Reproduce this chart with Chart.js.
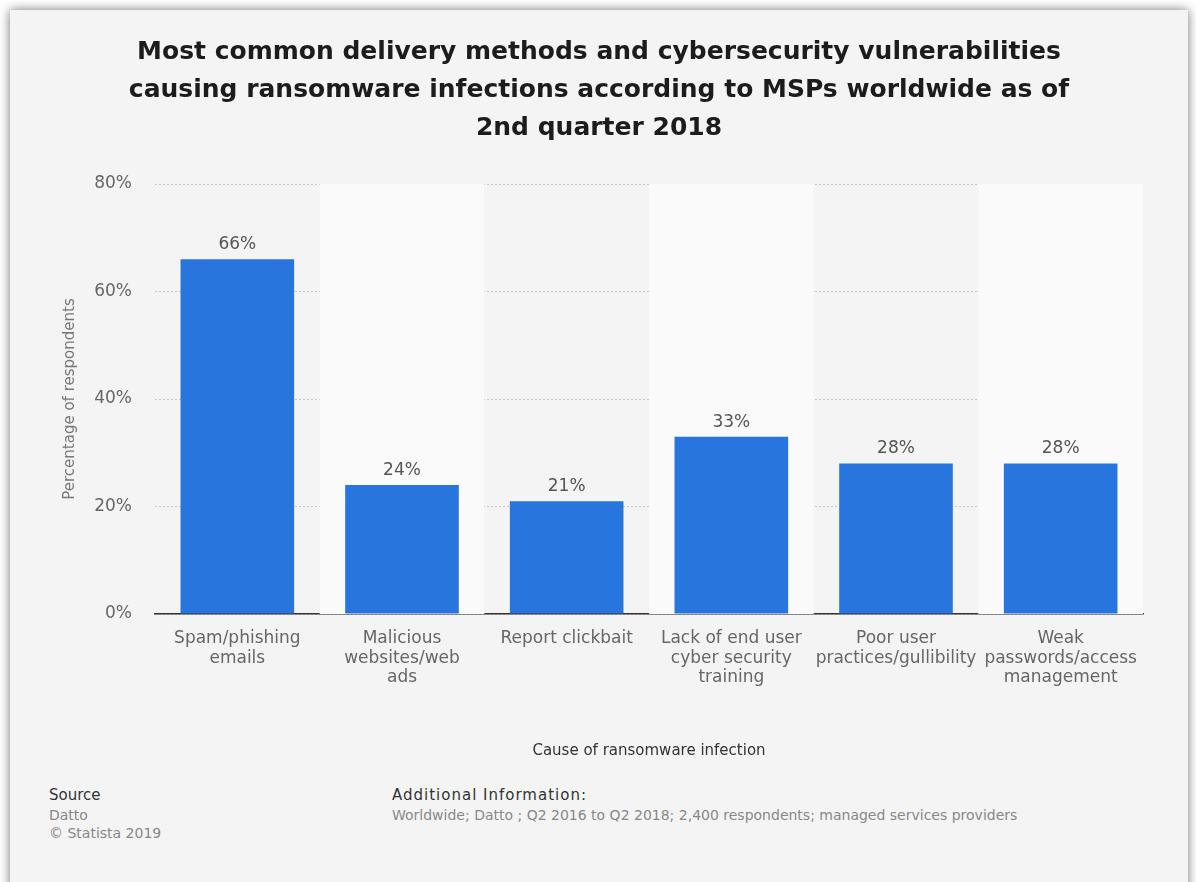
<!DOCTYPE html>
<html>
<head>
<meta charset="utf-8">
<script src="https://cdn.jsdelivr.net/npm/chart.js@4"></script>
<style>
  body { margin: 0; background: #fff; font-family: "DejaVu Sans", sans-serif; }
  #card {
    position: absolute; left: 10px; top: 10px; width: 1178px; height: 900px;
    background: #f4f4f4; box-shadow: 0 0 10px rgba(0,0,0,0.55);
  }
  #wrap { position: absolute; left: 0; top: 0; width: 1178px; height: 760px; }
  .foot { position: absolute; font-size: 15px; line-height: 19px; }
  .foot .h { color: #333; }
  .foot .t { color: #888; font-size: 14px; line-height: 18px; }
</style>
</head>
<body>
<div id="card">
  <div id="wrap"><canvas id="chart"></canvas></div>
  <div class="foot" style="left:39px; top:776px;">
    <div class="h">Source</div>
    <div class="t" style="margin-top:1px">Datto</div>
    <div class="t">© Statista 2019</div>
  </div>
  <div class="foot" style="left:382px; top:776px;">
    <div class="h" style="letter-spacing:1px">Additional Information:</div>
    <div class="t" style="margin-top:1px">Worldwide; Datto ; Q2 2016 to Q2 2018; 2,400 respondents; managed services providers</div>
  </div>
</div>
<script>
// data
const categories = [
    ['Spam/phishing', 'emails'],
    ['Malicious', 'websites/web', 'ads'],
    'Report clickbait',
    ['Lack of end user', 'cyber security', 'training'],
    ['Poor user', 'practices/gullibility'],
    ['Weak', 'passwords/access', 'management']
];
const shares = [66, 24, 21, 33, 28, 28];
const yTicks = [0, 20, 40, 60, 80];

const FONT = '"DejaVu Sans", sans-serif';

// alternating column shading behind the bars
const bandPlugin = {
    id: 'bands',
    beforeDatasetsDraw(chart) {
        const {ctx, chartArea, scales: {x}} = chart;
        const w = (chartArea.right - chartArea.left) / categories.length;
        ctx.save();
        ctx.fillStyle = '#fafafa';
        categories.forEach((c, i) => {
            if (i % 2 === 1) {
                const cx = x.getPixelForValue(i);
                ctx.fillRect(cx - w / 2, chartArea.top, w, chartArea.bottom - chartArea.top);
            }
        });
        ctx.restore();
    }
};

// value labels over bars
const labelPlugin = {
    id: 'valueLabels',
    afterDatasetsDraw(chart) {
        const {ctx} = chart;
        const meta = chart.getDatasetMeta(0);
        ctx.save();
        ctx.font = '17px ' + FONT;
        ctx.fillStyle = '#555';
        ctx.textAlign = 'center';
        ctx.textBaseline = 'bottom';
        meta.data.forEach((bar, i) => {
            ctx.fillText(shares[i] + '%', bar.x, bar.y - 6);
        });
        ctx.restore();
    }
};

new Chart(document.getElementById('chart'), {
    type: 'bar',
    data: {
        labels: categories,
        datasets: [{
            data: shares,
            backgroundColor: '#2876dd',
            borderWidth: 0,
            categoryPercentage: 1,
            barPercentage: 0.69
        }]
    },
    options: {
        responsive: true,
        maintainAspectRatio: false,
        animation: false,
        layout: { padding: 0 },
        plugins: {
            legend: { display: false },
            tooltip: { enabled: false },
            title: {
                display: true,
                text: ['Most common delivery methods and cybersecurity vulnerabilities',
                       'causing ransomware infections according to MSPs worldwide as of',
                       '2nd quarter 2018'],
                color: '#1c1c1c',
                font: { family: FONT, size: 25, weight: 'bold', lineHeight: 1.52 },
                padding: { top: 23, bottom: 37 }
            }
        },
        scales: {
            x: {
                grid: { display: false, drawTicks: false },
                border: { display: true, color: '#333', width: 1.5 },
                ticks: {
                    color: '#666', padding: 15, maxRotation: 0, autoSkip: false,
                    font: { family: FONT, size: 17, lineHeight: 1.15 }
                },
                title: {
                    display: true, text: 'Cause of ransomware infection', color: '#333',
                    font: { family: FONT, size: 15 }, padding: { top: 0, bottom: 9.5 }
                },
                afterFit: s => { s.height = 156; }
            },
            y: {
                min: 0, max: 80,
                afterBuildTicks: s => { s.ticks = yTicks.map(v => ({ value: v })); },
                grid: { color: '#c8c8c8', drawTicks: false, lineWidth: 1 },
                border: { display: false, dash: [2, 2] },
                ticks: {
                    color: '#666', padding: 23,
                    font: { family: FONT, size: 17 },
                    callback: v => v + '%'
                },
                title: {
                    display: true, text: 'Percentage of respondents', color: '#777',
                    font: { family: FONT, size: 15 }, padding: { top: 51, bottom: 0 }
                },
                afterFit: s => { s.width = 145; }
            },
            // empty right-hand axis, keeps the plot off the right edge while the title stays centred
            yRight: {
                position: 'right',
                grid: { display: false, drawTicks: false },
                border: { display: false },
                ticks: { display: false },
                afterFit: s => { s.width = 45; }
            }
        }
    },
    plugins: [bandPlugin, labelPlugin]
});
</script>
</body>
</html>
